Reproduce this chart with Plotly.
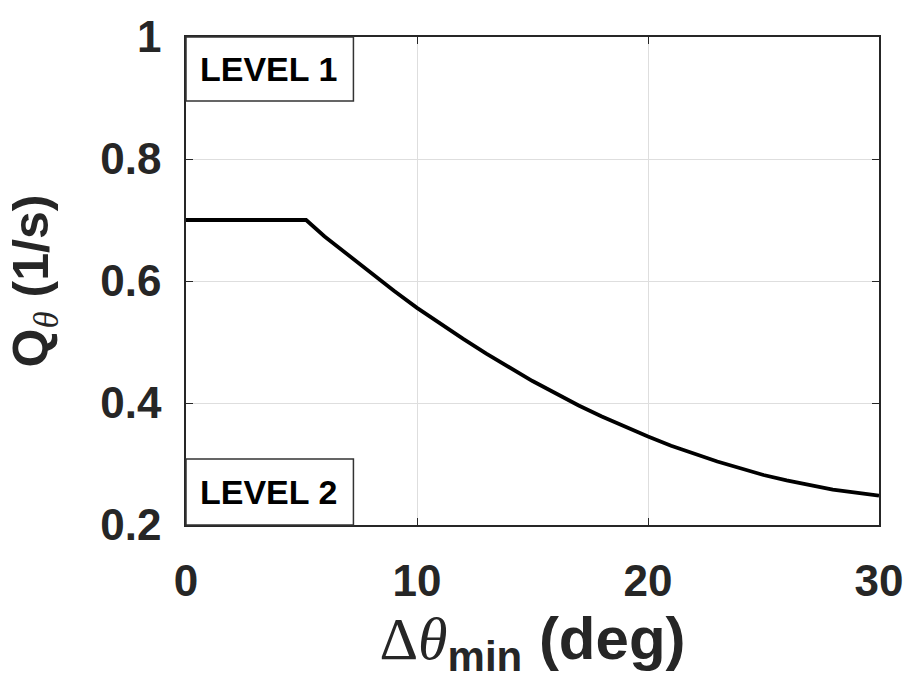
import plotly.graph_objects as go

# Minimum angle spacing (deg) and the corresponding Q_theta (1/s)
delta_theta_min = [0, 5.2, 6, 7, 8, 9, 10, 11, 12, 13, 14, 15, 16, 17, 18, 19,
                   20, 21, 22, 23, 24, 25, 26, 27, 28, 29, 30]
q_theta = [0.700, 0.700, 0.673, 0.643, 0.613, 0.584, 0.556, 0.530, 0.505, 0.481,
           0.458, 0.436, 0.416, 0.396, 0.378, 0.361, 0.345, 0.330, 0.317, 0.304,
           0.293, 0.282, 0.273, 0.265, 0.258, 0.253, 0.248]

x_ticks = [0, 10, 20, 30]
x_tick_labels = ["0", "10", "20", "30"]
y_ticks = [0.2, 0.4, 0.6, 0.8, 1.0]
y_tick_labels = ["0.2", "0.4", "0.6", "0.8", "1"]

region_labels = ["LEVEL 1", "LEVEL 2"]

SANS = "Liberation Sans, Arial, sans-serif"
SERIF = "Liberation Serif, Times New Roman, serif"
AX_COL = "#262626"

fig = go.Figure()
fig.add_trace(go.Scatter(
    x=delta_theta_min, y=q_theta, mode="lines",
    line=dict(color="black", width=3.8), showlegend=False,
))

axis_common = dict(
    showline=True, linecolor=AX_COL, linewidth=1.5, mirror="ticks",
    ticks="inside", ticklen=7, tickwidth=1.2, tickcolor=AX_COL,
    showgrid=True, gridcolor="#dedede", gridwidth=1,
    zeroline=False,
    tickfont=dict(family=SANS, size=44, color=AX_COL, weight="bold"),
)

fig.update_xaxes(
    range=[0, 30], tickvals=x_ticks, ticktext=x_tick_labels,
    ticklabelstandoff=16,
    title=dict(
        text=(f'<span style="font-family:{SERIF};font-weight:normal">Δ<i>θ</i></span>'
              '<sub>min</sub> (deg)'),
        font=dict(family=SANS, size=60, color=AX_COL, weight="bold"),
        standoff=0,
    ),
    **axis_common,
)
fig.update_yaxes(
    range=[0.2, 1.0], tickvals=y_ticks, ticktext=y_tick_labels,
    ticklabelstandoff=14,
    title=dict(
        text=(f'Q<sub><span style="font-family:{SERIF};font-weight:normal">'
              '<i>θ</i></span></sub> (1/s)'),
        font=dict(family=SANS, size=50, color=AX_COL, weight="bold"),
        standoff=36,
    ),
    **axis_common,
)

# Region label boxes anchored to the top-left and bottom-left corners
box_right = 0.2416
fig.add_shape(type="rect", xref="x domain", yref="y domain",
              x0=0, x1=box_right, y0=0.869, y1=1.0,
              line=dict(color="#333333", width=1.5), fillcolor="white", layer="above")
fig.add_shape(type="rect", xref="x domain", yref="y domain",
              x0=0, x1=box_right, y0=0.0, y1=0.135,
              line=dict(color="#333333", width=1.5), fillcolor="white", layer="above")

for label, yc in zip(region_labels, [0.935, 0.068]):
    fig.add_annotation(
        xref="x domain", yref="y domain", x=0.017, y=yc,
        xanchor="left", yanchor="middle", showarrow=False,
        text=label, font=dict(family=SANS, size=34, color="black", weight="bold"),
    )

fig.update_layout(
    width=915, height=700,
    margin=dict(l=186, r=31, t=26, b=175),
    paper_bgcolor="white", plot_bgcolor="white",
)

fig.write_html("out.html")
